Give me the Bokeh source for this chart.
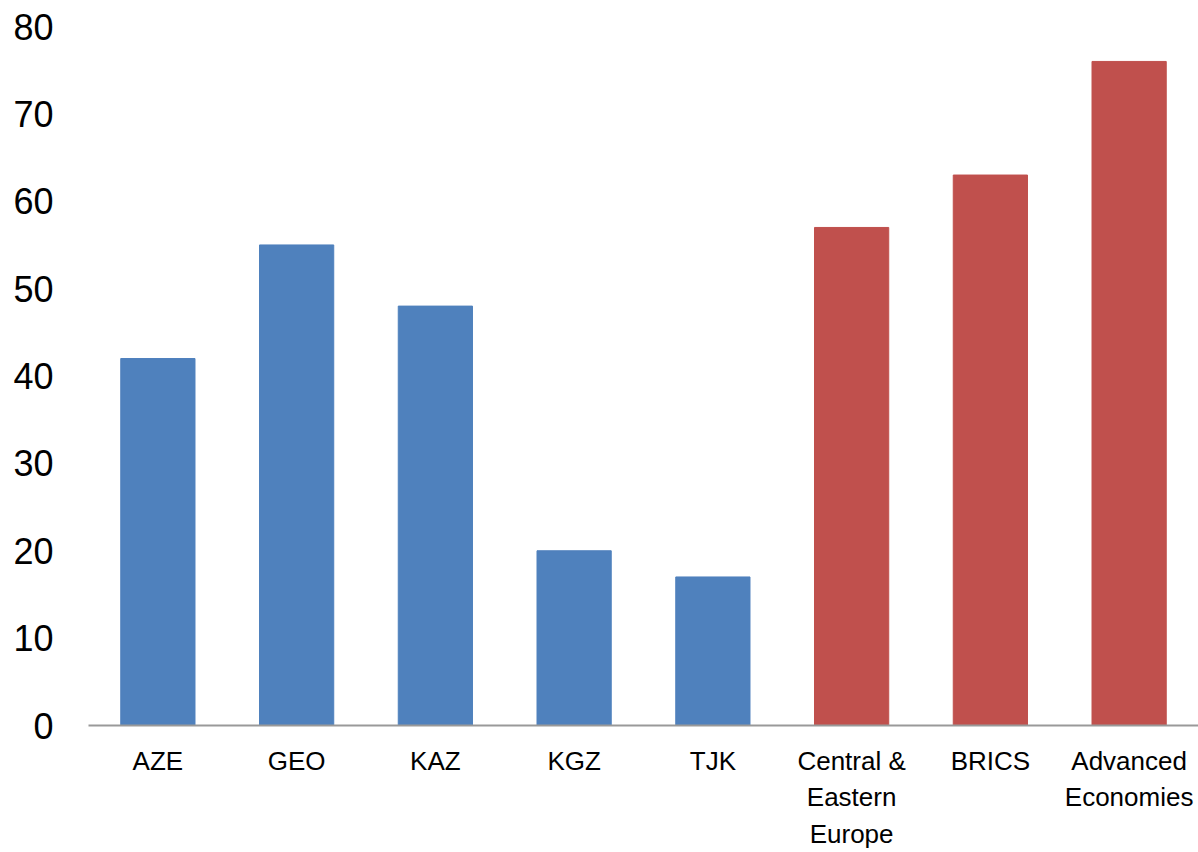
from bokeh.plotting import figure
from bokeh.models import Range1d, FactorRange, ColumnDataSource, FixedTicker
from bokeh.embed import file_html
from bokeh.resources import INLINE

categories = ["AZE", "GEO", "KAZ", "KGZ", "TJK", "Central &\nEastern\nEurope", "BRICS", "Advanced\nEconomies"]
values = [42, 55, 48, 20, 17, 57, 63, 76]
groups = ["country"] * 5 + ["benchmark"] * 3
y_ticks = [0, 10, 20, 30, 40, 50, 60, 70, 80]

color_map = {"country": "#4F81BD", "benchmark": "#C0504D"}
colors = [color_map[g] for g in groups]

src = ColumnDataSource(dict(cat=categories, val=values, color=colors))

p = figure(x_range=FactorRange(*categories, range_padding=0), y_range=Range1d(0, 80),
           width=1198, height=852, output_backend="svg", toolbar_location=None,
           min_border_left=88, min_border_right=0, min_border_top=26, min_border_bottom=10)

p.vbar(x="cat", top="val", width=0.535, color="color", source=src)

p.outline_line_color = None
p.xgrid.grid_line_color = None
p.ygrid.grid_line_color = None
p.background_fill_color = "white"

p.yaxis.ticker = FixedTicker(ticks=y_ticks)
p.yaxis.axis_line_color = None
p.yaxis.major_tick_line_color = None
p.yaxis.minor_tick_line_color = None
p.yaxis.major_tick_out = 0
p.yaxis.major_label_standoff = 35
p.yaxis.major_label_text_font = "Liberation Sans"
p.yaxis.major_label_text_font_size = "36px"
p.yaxis.major_label_text_color = "black"

p.xaxis.axis_line_color = "#999999"
p.xaxis.axis_line_width = 2
p.xaxis.major_tick_line_color = None
p.xaxis.major_tick_out = 0
p.xaxis.major_label_standoff = 20
p.xaxis.major_label_text_font = "Liberation Sans"
p.xaxis.major_label_text_font_size = "26px"
p.xaxis.major_label_text_line_height = 1.23
p.xaxis.major_label_text_color = "black"
p.xaxis.major_label_orientation = "horizontal"

open("out.html", "w").write(file_html(p, INLINE))
